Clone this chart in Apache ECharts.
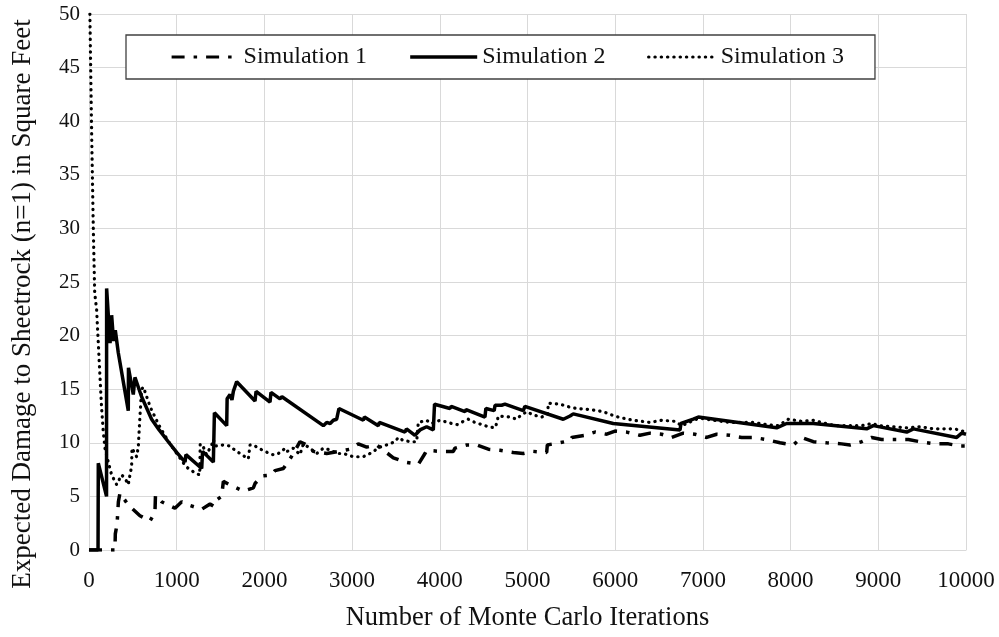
<!DOCTYPE html>
<html>
<head>
<meta charset="utf-8">
<script src="https://cdn.jsdelivr.net/npm/echarts@6/dist/echarts.min.js"></script>
<style>
html,body{margin:0;padding:0;background:#fff;}
#chart{width:999px;height:637px;}
</style>
</head>
<body>
<div id="chart"></div>
<script>
// ---- data (iteration, expected damage) ----
const seriesNames = ['Simulation 1', 'Simulation 2', 'Simulation 3'];
const xTicks = [0,1000,2000,3000,4000,5000,6000,7000,8000,9000,10000];
const yTicks = [0,5,10,15,20,25,30,35,40,45,50];

const sim1 = [[0,0],[296,0],[300,1.5],[320,2.4],[335,4.5],[353,5.3],[448,4.2],[581,3.2],[695,2.7],[752,3.5],[758,5.1],[828,4.5],[980,3.9],[1057,4.5],[1133,4.2],[1285,3.8],[1380,4.3],[1418,4.1],[1425,4.5],[1513,5.0],[1532,6.4],[1627,6.0],[1760,5.5],[1874,5.8],[1893,6.2],[1969,6.9],[2083,7.0],[2121,7.4],[2216,7.6],[2300,8.6],[2350,9.3],[2406,10.1],[2482,9.8],[2558,9.2],[2710,9.0],[2850,9.2],[2976,9.4],[3071,9.9],[3166,9.6],[3280,9.8],[3470,8.6],[3603,8.2],[3755,8.0],[3831,9.0],[3850,9.3],[4002,9.2],[4154,9.2],[4173,9.5],[4306,9.8],[4420,9.8],[4553,9.4],[4686,9.3],[4838,9.1],[4952,9.0],[5066,9.2],[5219,9.1],[5226,9.8],[5363,10.0],[5485,10.2],[5504,10.5],[5656,10.7],[5770,11.0],[5903,10.8],[5998,11.1],[6130,11.0],[6282,10.7],[6397,10.9],[6530,10.8],[6644,10.5],[6776,10.9],[6910,10.8],[7043,10.5],[7157,10.8],[7309,10.7],[7442,10.5],[7575,10.5],[7727,10.3],[7879,10.0],[8031,9.8],[8126,10.5],[8259,10.1],[8411,10.0],[8582,9.9],[8677,9.8],[8810,10.1],[8924,10.5],[9038,10.3],[9190,10.3],[9343,10.3],[9476,10.1],[9647,9.9],[9799,9.9],[9932,9.7],[10000,9.7]];

const sim2 = [[0,0],[103,0],[106,8.1],[200,5.0],[201,24.4],[240,19.3],[258,21.9],[280,19.5],[300,20.5],[334,18.4],[448,13.0],[450,17.0],[505,14.5],[524,16.1],[600,14.3],[714,12.2],[800,11.2],[904,10.1],[1000,9.1],[1095,8.2],[1105,8.9],[1285,7.6],[1295,9.2],[1418,8.2],[1430,12.8],[1570,11.6],[1575,14.1],[1608,14.5],[1630,14.0],[1646,14.8],[1684,15.7],[1893,13.9],[1905,14.8],[2064,13.8],[2075,14.7],[2178,14.1],[2200,14.3],[2672,11.6],[2710,11.9],[2750,11.8],[2786,12.1],[2824,12.2],[2850,13.2],[3128,12.1],[3140,12.4],[3299,11.6],[3310,11.9],[3603,11.0],[3620,11.3],[3717,10.7],[3774,11.2],[3850,11.5],[3926,11.2],[3940,13.6],[4116,13.2],[4130,13.4],[4287,12.9],[4300,13.1],[4515,12.4],[4525,13.2],[4620,13.0],[4630,13.5],[4705,13.5],[4743,13.6],[4952,13.0],[4970,13.4],[5408,12.2],[5485,12.5],[5522,12.7],[5978,11.8],[6739,11.2],[6750,11.8],[6890,12.2],[6948,12.4],[7841,11.4],[7955,11.8],[8259,11.8],[8867,11.3],[8943,11.6],[9324,11.0],[9400,11.3],[9894,10.5],[9951,10.9],[10000,10.8]];

const sim3 = [[10,50],[30,39],[49,30],[65,24],[87,22.4],[106,19.3],[125,16.2],[144,13.2],[163,11.0],[182,9.5],[220,8.2],[258,7.0],[315,6.1],[372,7.0],[410,6.7],[448,6.1],[467,7.0],[486,7.8],[490,9.5],[543,8.7],[562,9.6],[581,12.5],[600,15.0],[620,15.2],[700,13.3],[800,11.6],[900,10.2],[1000,9.0],[1095,7.9],[1133,7.6],[1209,7.2],[1262,7.0],[1268,9.9],[1304,9.6],[1340,8.9],[1399,9.8],[1418,10.3],[1440,9.7],[1532,9.8],[1608,9.7],[1665,9.3],[1741,8.9],[1817,8.5],[1836,9.8],[1874,9.8],[1931,9.5],[2007,9.2],[2083,8.9],[2140,8.9],[2197,9.2],[2235,9.5],[2260,9.2],[2330,9.5],[2406,8.9],[2444,9.9],[2501,9.6],[2596,9.0],[2672,9.5],[2767,9.3],[2824,9.0],[2900,9.0],[3014,8.7],[3128,8.7],[3204,9.0],[3318,9.6],[3394,9.8],[3489,10.1],[3527,10.5],[3584,10.2],[3679,10.1],[3736,10.1],[3755,11.9],[3850,12.1],[3900,11.8],[4002,12.1],[4050,12.0],[4135,11.8],[4200,11.7],[4268,12.0],[4325,12.2],[4401,11.9],[4477,11.7],[4553,11.5],[4629,11.4],[4648,11.8],[4667,12.5],[4800,12.4],[4876,12.2],[4914,12.5],[4990,12.9],[5066,12.6],[5162,12.4],[5230,12.7],[5237,13.7],[5371,13.6],[5447,13.4],[5561,13.2],[5713,13.1],[5865,12.9],[5960,12.6],[6035,12.4],[6206,12.1],[6397,11.9],[6530,12.1],[6682,12.0],[6758,11.6],[6820,11.8],[6890,12.1],[6967,12.3],[7119,12.1],[7309,11.9],[7461,11.9],[7575,11.9],[7727,11.7],[7860,11.6],[7974,12.2],[8126,12.0],[8259,12.1],[8354,11.9],[8506,11.6],[8677,11.6],[8810,11.6],[8924,11.8],[9019,11.6],[9171,11.5],[9324,11.4],[9476,11.5],[9628,11.3],[9780,11.3],[9875,11.3],[9951,11.1],[10000,11.1]];

const FONT = "'Liberation Serif', 'Times New Roman', serif";
const chart = echarts.init(document.getElementById('chart'), null, {renderer:'canvas'});

const lineStyles = [
  {color:'#000', width:3.5, type:[13,9,3.5,9], cap:'butt'},
  {color:'#000', width:3.5, type:'solid'},
  {color:'#000', width:3.2, type:[0.3,6], cap:'round'}
];
const datasets = [sim1, sim2, sim3];

chart.setOption({
  animation:false,
  backgroundColor:'#fff',
  textStyle:{fontFamily:FONT, color:'#111'},
  grid:{left:89, right:33, top:14, bottom:81, containLabel:false},
  legend:{
    data:seriesNames.map((n,i)=>({name:n, lineStyle:Object.assign({}, lineStyles[i], i===1?{width:3.5}:{width:3.2})})),
    left:126, top:35,
    padding:[10,31,10,44],
    itemGap:41.5,
    itemWidth:67, itemHeight:14,
    backgroundColor:'#fff',
    borderColor:'#404040', borderWidth:1.3,
    itemStyle:{opacity:0},
    textStyle:{fontFamily:FONT, fontSize:24, color:'#111'},
    z:10
  },
  xAxis:{
    type:'value', min:xTicks[0], max:xTicks[xTicks.length-1], interval:1000,
    name:'Number of Monte Carlo Iterations',
    nameLocation:'middle', nameGap:55,
    nameTextStyle:{fontFamily:FONT, fontSize:26.5, color:'#111'},
    axisLine:{show:true, lineStyle:{color:'#d9d9d9', width:1}},
    axisTick:{show:false},
    axisLabel:{fontFamily:FONT, fontSize:23, color:'#111', margin:19, formatter:v=>String(v)},
    splitLine:{show:true, lineStyle:{color:'#d9d9d9', width:1}}
  },
  yAxis:{
    type:'value', min:yTicks[0], max:yTicks[yTicks.length-1], interval:5,
    name:'Expected Damage to Sheetrock (n=1) in Square Feet',
    nameLocation:'middle', nameGap:53, nameRotate:90,
    nameTextStyle:{fontFamily:FONT, fontSize:27, color:'#111', padding:[0,44,0,0]},
    axisLine:{show:false},
    axisTick:{show:false},
    axisLabel:{fontFamily:FONT, fontSize:21, color:'#111', margin:9, formatter:v=>String(v)},
    splitLine:{show:true, lineStyle:{color:'#d9d9d9', width:1}}
  },
  series: seriesNames.map((n,i)=>({
    name:n, type:'line', data:datasets[i],
    showSymbol:false, symbol:'none', smooth:false,
    lineStyle:lineStyles[i], itemStyle:{color:'#000'},
    clip:true, z:3
  }))
});
</script>
</body>
</html>
